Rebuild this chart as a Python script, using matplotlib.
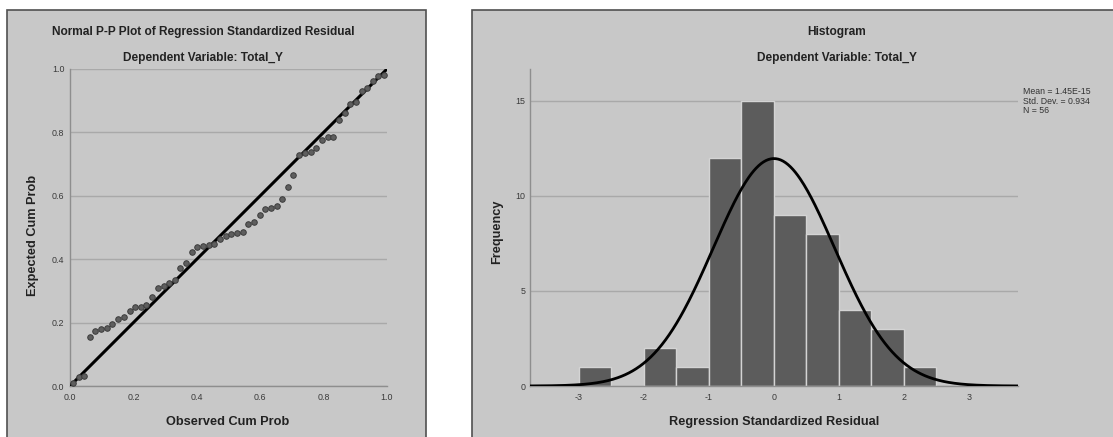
import numpy as np
import matplotlib.pyplot as plt
from matplotlib.patches import Rectangle

plt.rcParams['font.family'] = ['Liberation Sans', 'DejaVu Sans']
plt.rcParams['axes.unicode_minus'] = False

# P-P plot values
observed_cum_prob = [0.009, 0.027, 0.045, 0.063, 0.080, 0.098, 0.116, 0.134,
                     0.152, 0.170, 0.188, 0.205, 0.223, 0.241, 0.259, 0.277,
                     0.295, 0.313, 0.330, 0.348, 0.366, 0.384, 0.402, 0.420,
                     0.438, 0.455, 0.473, 0.491, 0.509, 0.527, 0.545, 0.563,
                     0.580, 0.598, 0.616, 0.634, 0.652, 0.670, 0.688, 0.705,
                     0.723, 0.741, 0.759, 0.777, 0.795, 0.813, 0.830, 0.848,
                     0.866, 0.884, 0.902, 0.920, 0.938, 0.955, 0.973, 0.991]
expected_cum_prob = [0.008, 0.029, 0.031, 0.156, 0.173, 0.181, 0.184, 0.197,
                     0.210, 0.218, 0.237, 0.250, 0.250, 0.255, 0.281, 0.308,
                     0.316, 0.326, 0.334, 0.373, 0.389, 0.423, 0.437, 0.441,
                     0.444, 0.447, 0.463, 0.472, 0.480, 0.482, 0.485, 0.511,
                     0.518, 0.540, 0.557, 0.560, 0.568, 0.589, 0.628, 0.667,
                     0.729, 0.734, 0.739, 0.750, 0.776, 0.786, 0.787, 0.840,
                     0.860, 0.891, 0.895, 0.932, 0.940, 0.962, 0.977, 0.981]

# histogram values
bin_left = [-3.0, -2.5, -2.0, -1.5, -1.0, -0.5, 0.0, 0.5, 1.0, 1.5, 2.0]
bin_counts = [1, 0, 2, 1, 12, 15, 9, 8, 4, 3, 1]
bin_width = 0.5
resid_mean = 1.45e-15
resid_sd = 0.934
n_obs = 56

bg = '#c8c8c8'
bar_col = '#5c5c5c'
grid_col = '#a9a9a9'
spine_col = '#8e8e8e'
tick_col = '#3a3a3a'

W, H = 1113, 437
fig = plt.figure(figsize=(W/100, H/100), dpi=100)

def px_box(x0, y0, x1, y1):
    # pixel box (top-left origin) -> figure fraction [l, b, w, h]
    return [x0/W, 1-y1/H, (x1-x0)/W, (y1-y0)/H]

# panel frames, behind the axes
for x0, x1 in [(7, 426), (472, 1125)]:
    fig.add_artist(Rectangle((x0/W, -0.05), (x1-x0)/W, 1-10/H+0.05,
                             transform=fig.transFigure, facecolor=bg,
                             edgecolor='#505050', lw=1.2, zorder=-5))

def style_axes(ax):
    ax.set_facecolor('none')
    ax.set_zorder(2)
    for s in ['top', 'right']:
        ax.spines[s].set_visible(False)
    for s in ['left', 'bottom']:
        ax.spines[s].set_color(spine_col)
        ax.spines[s].set_linewidth(1.0)
    ax.tick_params(length=0, labelsize=6.4, colors=tick_col)
    ax.yaxis.grid(True, color=grid_col, lw=1.0)
    ax.set_axisbelow(True)

# ---- left: P-P plot
ax1 = fig.add_axes(px_box(70, 69, 387, 386))
style_axes(ax1)
ax1.plot([0, 1], [0, 1], color='black', lw=2.2, zorder=3)
ax1.plot(observed_cum_prob, expected_cum_prob, 'o', ms=4.0,
         mfc='#5e5e5e', mec='#3c3c3c', mew=0.7, zorder=4)
ax1.set_xlim(0, 1)
ax1.set_ylim(0, 1)
ticks = [0.0, 0.2, 0.4, 0.6, 0.8, 1.0]
ax1.set_xticks(ticks)
ax1.set_yticks(ticks)
ax1.set_xticklabels([f'{t:.1f}' for t in ticks])
ax1.set_yticklabels([f'{t:.1f}' for t in ticks])
ax1.tick_params(axis='x', pad=5)
ax1.tick_params(axis='y', pad=4)

fig.text(203/W, 1-32/H, 'Normal P-P Plot of Regression Standardized Residual',
         ha='center', va='center', fontsize=8.6, fontweight='bold', color='#222222')
fig.text(203/W, 1-58/H, 'Dependent Variable: Total_Y',
         ha='center', va='center', fontsize=8.6, fontweight='bold', color='#222222')
fig.text(228/W, 1-422/H, 'Observed Cum Prob', ha='center', va='center',
         fontsize=9.2, fontweight='bold', color='#222222')
fig.text(33/W, 1-235/H, 'Expected Cum Prob', ha='center', va='center',
         rotation=90, fontsize=9.2, fontweight='bold', color='#222222')

# ---- right: histogram
ax2 = fig.add_axes(px_box(529.6, 69, 1018.3, 386))
style_axes(ax2)
ax2.bar(bin_left, bin_counts, width=bin_width, align='edge',
        color=bar_col, edgecolor='#d4d4d4', lw=1.0, zorder=2)
xs = np.linspace(-3.76, 3.76, 400)
curve = n_obs * bin_width * np.exp(-0.5*((xs-resid_mean)/resid_sd)**2) / (resid_sd*np.sqrt(2*np.pi))
ax2.plot(xs, curve, color='black', lw=2.0, zorder=3)
ax2.set_xlim(-3.76, 3.76)
ax2.set_ylim(0, 16.67)
ax2.set_xticks([-3, -2, -1, 0, 1, 2, 3])
ax2.set_yticks([0, 5, 10, 15])
ax2.tick_params(axis='x', pad=5)
ax2.tick_params(axis='y', pad=3)

fig.text(837/W, 1-32/H, 'Histogram', ha='center', va='center',
         fontsize=8.6, fontweight='bold', color='#222222')
fig.text(837/W, 1-58/H, 'Dependent Variable: Total_Y', ha='center', va='center',
         fontsize=8.6, fontweight='bold', color='#222222')
fig.text(774/W, 1-422/H, 'Regression Standardized Residual', ha='center', va='center',
         fontsize=9.2, fontweight='bold', color='#222222')
fig.text(497/W, 1-232/H, 'Frequency', ha='center', va='center',
         rotation=90, fontsize=9.2, fontweight='bold', color='#222222')
fig.text(1023/W, 1-87/H,
         f'Mean = 1.45E-15\nStd. Dev. = {resid_sd}\nN = {n_obs}',
         ha='left', va='top', fontsize=6.3, color='#333333', linespacing=1.1)

fig.savefig('out.png', dpi=100, facecolor='white')
